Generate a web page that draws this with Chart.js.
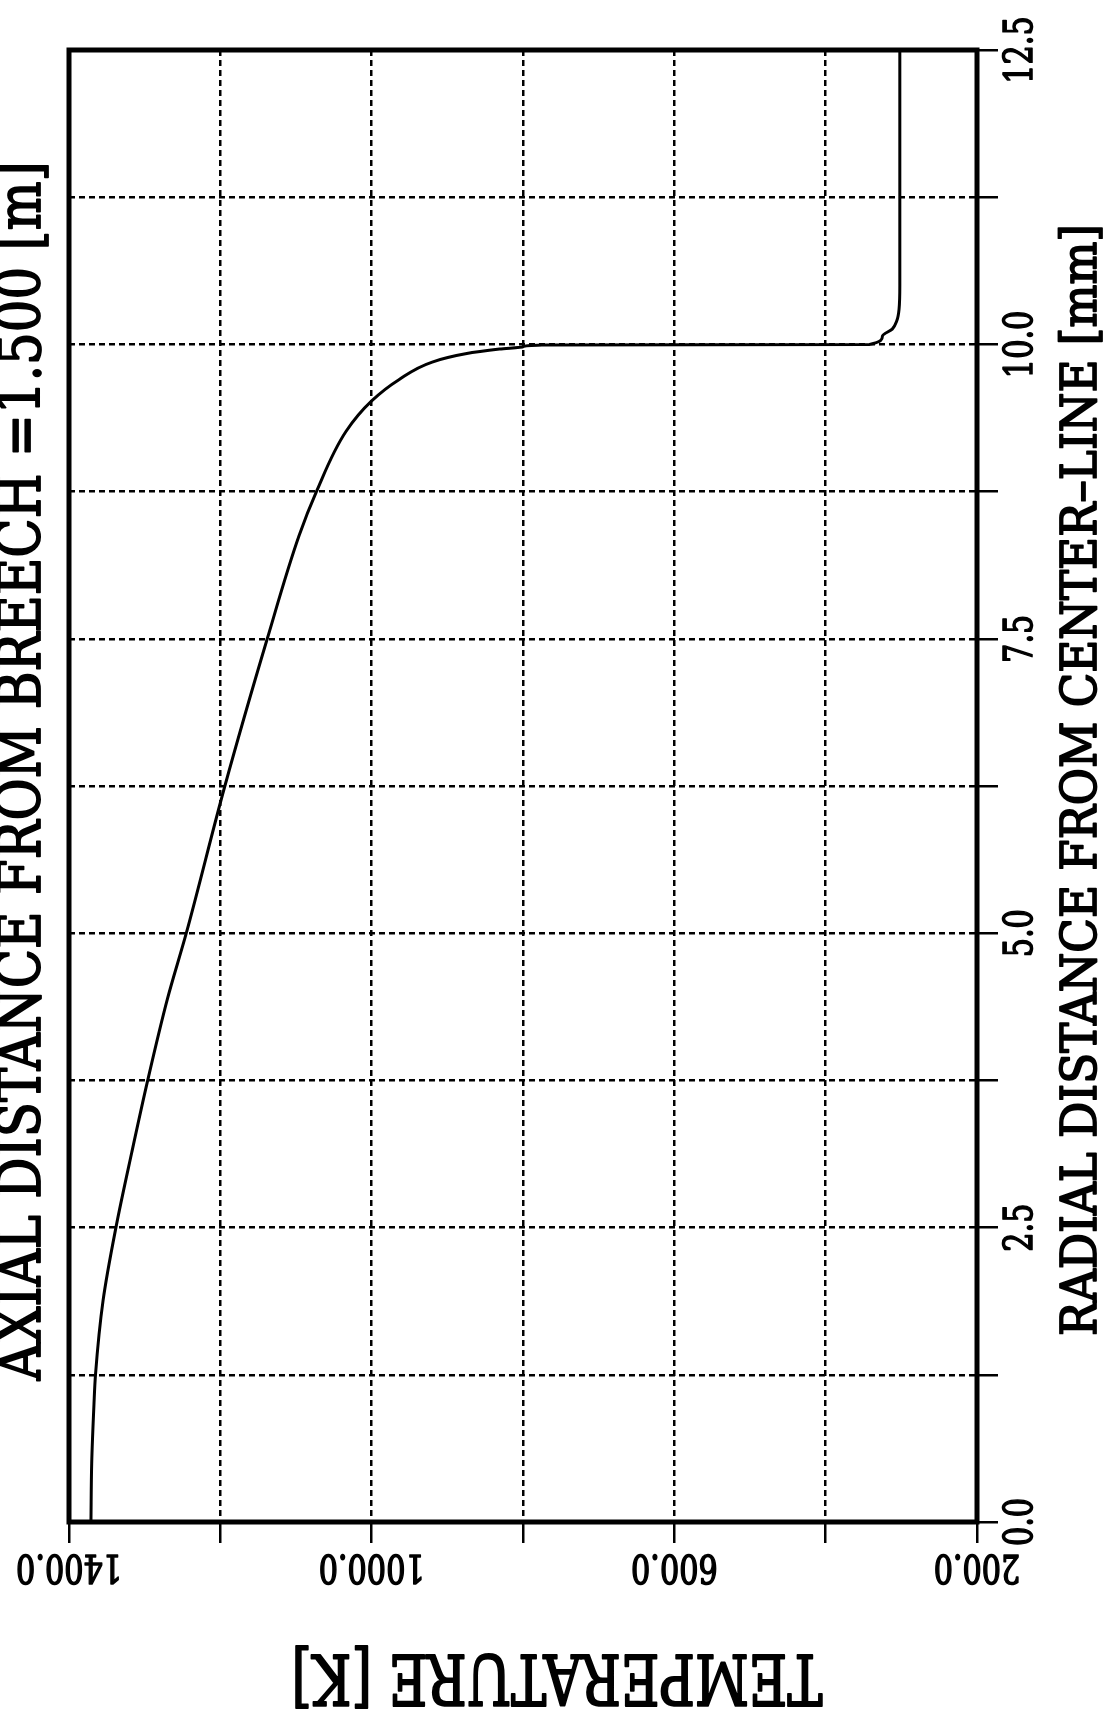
<!DOCTYPE html>
<html><head><meta charset="utf-8">
<script src="https://cdn.jsdelivr.net/npm/chart.js@4.4.0/dist/chart.umd.min.js"></script>
<style>html,body{margin:0;padding:0;background:#fff;overflow:hidden}canvas{display:block}</style>
</head><body>
<canvas id="c" width="1106" height="1711"></canvas>
<script>
// Data read from the (rotated) reference: radial distance [mm] vs temperature [K]
const radiusMm = [0, 0.5, 1.0, 1.25, 1.88, 2.5, 3.14, 3.75, 4.44, 5.0, 6.25, 7.5, 8.375, 8.75, 9.26, 9.52, 9.70, 9.85, 9.92, 9.96, 9.98, 9.995, 10.0, 10.07, 10.13, 10.2, 10.3, 10.5, 12.5];
const temperatureK = [1371, 1370, 1367, 1365, 1355, 1338, 1317, 1296, 1270, 1245, 1194, 1138, 1096, 1073, 1034, 1000, 964, 920, 876, 831, 800, 775, 342, 325, 312, 306, 303, 302, 302];

const tempTickValues = [200, 600, 1000, 1400];
const tempTickLabels = ['200.0', '600.0', '1000.0', '1400.0'];
const radTickValues = [0, 2.5, 5, 7.5, 10, 12.5];
const radTickLabels = ['0.0', '2.5', '5.0', '7.5', '10.0', '12.5'];
const tempTitle = 'TEMPERATURE [K]';
const radTitle = 'RADIAL DISTANCE FROM CENTER\u2013LINE [mm]';
const topTitle = 'AXIAL DISTANCE FROM BREECH =1.500 [m]';

const FONT = '"DejaVu Serif"';

function capRatio(ctx) {
  ctx.font = '100px ' + FONT;
  return ctx.measureText('H').actualBoundingBoxAscent / 100;
}
function drawText(ctx, text, cx, cy, angle, capH, opts) {
  ctx.save();
  const size = capH / capRatio(ctx);
  ctx.font = size + 'px ' + FONT;
  let sx = 1;
  if (opts.targetW) sx = opts.targetW / ctx.measureText(text).width;
  if (opts.refText) sx = opts.refW / ctx.measureText(opts.refText).width;
  ctx.translate(cx, cy);
  ctx.rotate(angle);
  ctx.scale(sx, 1);
  ctx.textAlign = 'center';
  ctx.textBaseline = 'alphabetic';
  ctx.fillStyle = '#000';
  ctx.strokeStyle = '#000';
  ctx.lineWidth = opts.stroke || 1.4;
  ctx.lineJoin = 'round';
  ctx.fillText(text, 0, capH / 2);
  ctx.strokeText(text, 0, capH / 2);
  ctx.restore();
}

const decor = {
  id: 'decor',
  afterDraw(chart) {
    const ctx = chart.ctx;
    const a = chart.chartArea;
    const xs = chart.scales.x, ys = chart.scales.y;
    ctx.save();
    ctx.strokeStyle = '#000';
    ctx.lineWidth = 5;
    ctx.lineJoin = 'miter';
    ctx.strokeRect(a.left, a.top, a.right - a.left, a.bottom - a.top);
    ctx.restore();
    tempTickValues.forEach((v, i) => {
      drawText(ctx, tempTickLabels[i], xs.getPixelForValue(v), 1569, Math.PI, 28, {refText: '1000.0', refW: 106, stroke: 1.6});
    });
    radTickValues.forEach((v, i) => {
      drawText(ctx, radTickLabels[i], 1018, ys.getPixelForValue(v), -Math.PI / 2, 28, {refText: '1000.0', refW: 106, stroke: 1.6});
    });
    drawText(ctx, radTitle, 1078, 780, -Math.PI / 2, 35, {targetW: 1112, stroke: 1.8});
    drawText(ctx, topTitle, 18, 771, -Math.PI / 2, 44, {targetW: 1219, stroke: 1.8});
    drawText(ctx, tempTitle, 557, 1680, Math.PI, 50, {targetW: 531, stroke: 2});
  }
};

const gridCommon = {
  color: '#000',
  lineWidth: 2.5,
  drawTicks: true,
  tickLength: 21,
  tickWidth: 2.5,
  tickColor: '#000',
  tickBorderDash: []
};

new Chart(document.getElementById('c'), {
  type: 'scatter',
  data: {
    datasets: [{
      data: radiusMm.map((r, i) => ({x: temperatureK[i], y: r})),
      showLine: true,
      borderColor: '#000',
      borderWidth: 3,
      pointRadius: 0,
      cubicInterpolationMode: 'monotone',
      indexAxis: 'y',
      fill: false
    }]
  },
  options: {
    indexAxis: 'y',
    responsive: false,
    animation: false,
    devicePixelRatio: 1,
    layout: {padding: {left: 69, top: 50, right: 0, bottom: 0}},
    plugins: {legend: {display: false}, tooltip: {enabled: false}, title: {display: false}},
    scales: {
      x: {
        type: 'linear', position: 'bottom', min: 200, max: 1400, reverse: true,
        ticks: {display: false, stepSize: 200},
        grid: gridCommon,
        border: {display: false, dash: [6, 4]},
        afterFit(s) { s.height = 189; }
      },
      y: {
        type: 'linear', position: 'right', min: 0, max: 12.5,
        ticks: {display: false, stepSize: 1.25},
        grid: gridCommon,
        border: {display: false, dash: [6, 4]},
        afterFit(s) { s.width = 129; }
      }
    }
  },
  plugins: [decor]
});
</script>
</body></html>
